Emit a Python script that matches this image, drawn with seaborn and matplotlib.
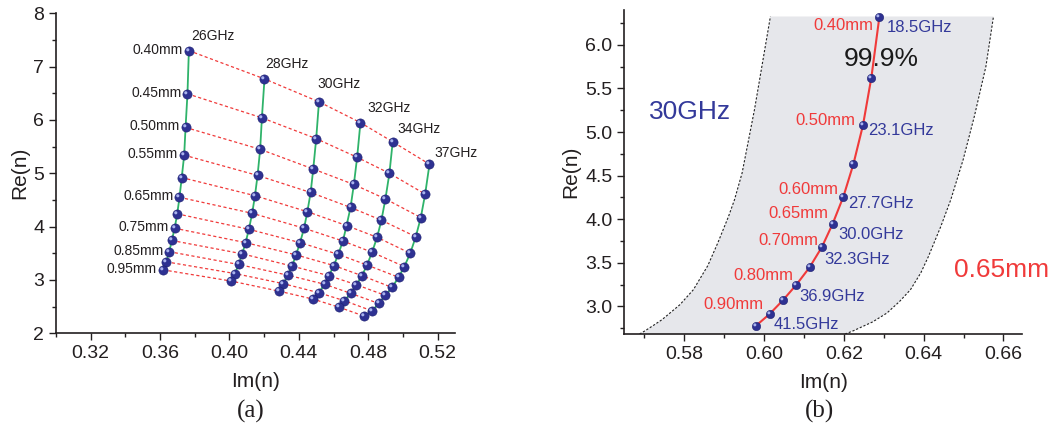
import numpy as np
import pandas as pd
import matplotlib
matplotlib.use("Agg")
import matplotlib.pyplot as plt
import seaborn as sns
from matplotlib.markers import MarkerStyle
from matplotlib.transforms import Affine2D
from matplotlib.ticker import MultipleLocator, FormatStrFormatter

# ---------------- data: panel (a) ----------------
freq_a = ["26GHz", "28GHz", "30GHz", "32GHz", "34GHz", "37GHz"]
thick_a = [0.40, 0.45, 0.50, 0.55, 0.60, 0.65, 0.70, 0.75, 0.80, 0.85, 0.90, 0.95]
thick_a_labels = ["0.40mm", "0.45mm", "0.50mm", "0.55mm", "", "0.65mm",
                  "", "0.75mm", "", "0.85mm", "", "0.95mm"]

im_26 = [0.3766, 0.3758, 0.3747, 0.3739, 0.3725, 0.3712, 0.3699, 0.3684, 0.3668, 0.3653, 0.3636, 0.3617]
re_26 = [7.30, 6.49, 5.86, 5.34, 4.92, 4.55, 4.24, 3.97, 3.74, 3.53, 3.34, 3.19]
im_28 = [0.4202, 0.4187, 0.4177, 0.4162, 0.4147, 0.4131, 0.4112, 0.4093, 0.4074, 0.4053, 0.4032, 0.4009]
re_28 = [6.77, 6.04, 5.45, 4.96, 4.58, 4.25, 3.95, 3.70, 3.49, 3.29, 3.12, 2.98]
im_30 = [0.4516, 0.4500, 0.4483, 0.4468, 0.4449, 0.4430, 0.4407, 0.4384, 0.4361, 0.4336, 0.4311, 0.4286]
re_30 = [6.34, 5.65, 5.08, 4.64, 4.28, 3.97, 3.70, 3.47, 3.26, 3.09, 2.93, 2.79]
im_32 = [0.4755, 0.4736, 0.4717, 0.4698, 0.4675, 0.4654, 0.4627, 0.4602, 0.4573, 0.4548, 0.4516, 0.4483]
re_32 = [5.95, 5.30, 4.79, 4.36, 4.02, 3.73, 3.48, 3.27, 3.08, 2.92, 2.76, 2.64]
im_34 = [0.4941, 0.4922, 0.4899, 0.4876, 0.4851, 0.4822, 0.4793, 0.4764, 0.4732, 0.4698, 0.4663, 0.4631]
re_34 = [5.59, 5.00, 4.52, 4.12, 3.80, 3.52, 3.28, 3.08, 2.91, 2.75, 2.61, 2.49]
im_37 = [0.5153, 0.5128, 0.5103, 0.5074, 0.5042, 0.5008, 0.4975, 0.4937, 0.4899, 0.4860, 0.4822, 0.4778]
re_37 = [5.17, 4.61, 4.17, 3.81, 3.50, 3.25, 3.05, 2.86, 2.71, 2.56, 2.42, 2.32]

# ---------------- data: panel (b) ----------------
thick_b = [0.40, 0.45, 0.50, 0.55, 0.60, 0.65, 0.70, 0.75, 0.80, 0.85, 0.90, 0.95]
im_b = [0.6289, 0.6269, 0.6248, 0.6224, 0.6199, 0.6172, 0.6145, 0.6114, 0.6081, 0.6047, 0.6014, 0.5980]
re_b = [6.319, 5.626, 5.080, 4.633, 4.261, 3.948, 3.681, 3.447, 3.249, 3.069, 2.913, 2.779]
thick_b_labels = ["0.40mm", "", "0.50mm", "", "0.60mm", "0.65mm", "0.70mm", "", "0.80mm", "", "0.90mm", ""]
freq_b_labels = ["18.5GHz", "", "23.1GHz", "", "27.7GHz", "30.0GHz", "32.3GHz", "", "36.9GHz", "", "41.5GHz", ""]

left_re = [2.683, 2.721, 2.777, 2.847, 3.019, 3.192, 3.467, 3.727, 4.032, 4.224, 4.530, 5.256, 6.326]
left_im = [0.5688, 0.5702, 0.5721, 0.5744, 0.5789, 0.5823, 0.5859, 0.5884, 0.5911, 0.5926, 0.5945, 0.5976, 0.6016]
right_re = [2.683, 2.721, 2.822, 2.924, 3.054, 3.192, 3.386, 3.573, 3.917, 4.224, 4.683, 5.179, 5.752, 6.326]
right_im = [0.6203, 0.6224, 0.6272, 0.6308, 0.6339, 0.6367, 0.6393, 0.6412, 0.6443, 0.6468, 0.6499, 0.6527, 0.6556, 0.6575]

# ---------------- style ----------------
sns.set_style("ticks")
plt.rcParams['font.family'] = ['Liberation Sans', 'DejaVu Sans']
DARK = '#231f20'
plt.rcParams.update({
    'axes.edgecolor': DARK, 'axes.linewidth': 1.2,
    'xtick.color': DARK, 'ytick.color': DARK,
    'xtick.labelcolor': DARK, 'ytick.labelcolor': DARK,
    'xtick.direction': 'out', 'ytick.direction': 'out',
    'xtick.major.size': 5, 'ytick.major.size': 5,
    'xtick.minor.size': 3, 'ytick.minor.size': 3,
    'xtick.major.width': 1.0, 'ytick.major.width': 1.0,
    'xtick.minor.width': 1.0, 'ytick.minor.width': 1.0,
    'xtick.labelsize': 14, 'ytick.labelsize': 14,
    'axes.labelsize': 15, 'axes.labelcolor': DARK,
})

BALL = '#2e3192'
BALL_EDGE = '#1d2070'
HIL = '#aab4ee'
GREEN = '#2fb36a'
RED = '#f03a3a'
BLUE_TXT = '#33399a'

fig = plt.figure(figsize=(10.52, 4.29), dpi=100)
axA = fig.add_axes([0.0532, 0.2231, 0.3793, 0.7459])
axB = fig.add_axes([0.5935, 0.2207, 0.3778, 0.7559])

# ---------------- panel (a) ----------------
cols_im = [im_26, im_28, im_30, im_32, im_34, im_37]
cols_re = [re_26, re_28, re_30, re_32, re_34, re_37]
rows = []
for f, ims, res in zip(freq_a, cols_im, cols_re):
    for t, x, y in zip(thick_a, ims, res):
        rows.append({'freq': f, 'thick': t, 'im': x, 're': y})
df_a = pd.DataFrame(rows)

sns.lineplot(data=df_a, x='im', y='re', units='thick', estimator=None, sort=False,
             color=RED, lw=0.9, linestyle=(0, (2.5, 2)), ax=axA, zorder=1)
sns.lineplot(data=df_a, x='im', y='re', units='freq', estimator=None, sort=False,
             color=GREEN, lw=1.3, ax=axA, zorder=2)
sns.scatterplot(data=df_a, x='im', y='re', color=BALL, s=44, edgecolor=BALL_EDGE,
                linewidth=0.4, ax=axA, zorder=3, legend=False)
hl = MarkerStyle('o', transform=Affine2D().translate(-0.55, 0.55))
axA.scatter(df_a['im'], df_a['re'], s=5, marker=hl, color=HIL, linewidths=0, zorder=4)

for t_lab, x, y in zip(thick_a_labels, im_26, re_26):
    if t_lab:
        axA.annotate(t_lab, (x, y), xytext=(-6, -3), textcoords='offset pixels',
                     ha='right', va='baseline', fontsize=10, color=DARK)
freq_offsets = [(2, 11), (1, 11), (-2, 14), (7, 11), (5, 8.5), (5, 7.5)]
for f, ims, res, off in zip(freq_a, cols_im, cols_re, freq_offsets):
    axA.annotate(f, (ims[0], res[0]), xytext=off, textcoords='offset pixels',
                 ha='left', va='baseline', fontsize=10, color=DARK)

axA.set_xlim(0.30, 0.53)
axA.set_ylim(2, 8)
axA.set_xticks([0.32, 0.36, 0.40, 0.44, 0.48, 0.52])
axA.xaxis.set_minor_locator(MultipleLocator(0.02))
axA.xaxis.set_major_formatter(FormatStrFormatter('%.2f'))
axA.yaxis.set_major_locator(MultipleLocator(1))
axA.yaxis.set_minor_locator(MultipleLocator(0.5))
axA.set_xlabel('Im(n)', labelpad=7)
axA.set_ylabel('Re(n)', labelpad=3)
sns.despine(ax=axA)

# ---------------- panel (b) ----------------
axB.fill(list(left_im) + list(right_im[::-1]), list(left_re) + list(right_re[::-1]),
         color='#e6e7eb', lw=0, zorder=0)
df_bl = pd.DataFrame({'im': left_im, 're': left_re})
df_br = pd.DataFrame({'im': right_im, 're': right_re})
sns.lineplot(data=df_bl, x='im', y='re', sort=False, estimator=None, color='#222222',
             lw=0.8, linestyle=(0, (2, 1.6)), ax=axB, zorder=1)
sns.lineplot(data=df_br, x='im', y='re', sort=False, estimator=None, color='#222222',
             lw=0.8, linestyle=(0, (2, 1.6)), ax=axB, zorder=1)

axB.text(0.6293, 5.755, '99.9%', fontsize=19, color='#1a1a1a', ha='center', va='baseline', zorder=1.5)
axB.text(0.5814, 5.147, '30GHz', fontsize=19, color=BLUE_TXT, ha='center', va='baseline')
axB.text(0.6595, 3.335, '0.65mm', fontsize=19, color=RED, ha='center', va='baseline')

df_b = pd.DataFrame({'im': im_b, 're': re_b, 'thick': thick_b})
sns.lineplot(data=df_b, x='im', y='re', sort=False, estimator=None, color=RED, lw=1.5,
             ax=axB, zorder=2)
sns.scatterplot(data=df_b, x='im', y='re', color=BALL, s=36, edgecolor=BALL_EDGE,
                linewidth=0.4, ax=axB, zorder=3, legend=False)
axB.scatter(df_b['im'], df_b['re'], s=4.5, marker=hl, color=HIL, linewidths=0, zorder=4)

red_offsets = [(-6, -13), (0, 0), (-7.7, 0), (0, 0), (-5, 2.5), (-4.4, 6), (-4, 2.5), (0, 0), (-3.4, 5), (0, 0), (-6, 5), (0, 0)]
blue_offsets = [(7.4, -15), (0, 0), (5.6, -10), (0, 0), (5, -11.6), (5.6, -15), (2.6, -17), (0, 0), (2.6, -16), (0, 0), (4, -14.7), (0, 0)]
for lab, x, y, off in zip(thick_b_labels, im_b, re_b, red_offsets):
    if lab:
        axB.annotate(lab, (x, y), xytext=off, textcoords='offset pixels', ha='right',
                     va='baseline', fontsize=12, color=RED, zorder=5)
for lab, x, y, off in zip(freq_b_labels, im_b, re_b, blue_offsets):
    if lab:
        axB.annotate(lab, (x, y), xytext=off, textcoords='offset pixels', ha='left',
                     va='baseline', fontsize=12, color=BLUE_TXT, zorder=5)

axB.set_xlim(0.565, 0.6646)
axB.set_ylim(2.68, 6.40)
axB.set_xticks([0.58, 0.60, 0.62, 0.64, 0.66])
axB.xaxis.set_minor_locator(MultipleLocator(0.01))
axB.xaxis.set_major_formatter(FormatStrFormatter('%.2f'))
axB.set_yticks([3.0, 3.5, 4.0, 4.5, 5.0, 5.5, 6.0])
axB.yaxis.set_minor_locator(MultipleLocator(0.25))
axB.yaxis.set_major_formatter(FormatStrFormatter('%.1f'))
axB.set_xlabel('Im(n)', labelpad=7)
axB.set_ylabel('Re(n)', labelpad=4)
sns.despine(ax=axB)

fig.text(251 / 1052, 1 - 411 / 429, '(a)', family=['Liberation Serif', 'DejaVu Serif'],
         fontsize=18, ha='center', va='center', color=DARK)
fig.text(820 / 1052, 1 - 411 / 429, '(b)', family=['Liberation Serif', 'DejaVu Serif'],
         fontsize=18, ha='center', va='center', color=DARK)

fig.savefig('out.png', dpi=100)
